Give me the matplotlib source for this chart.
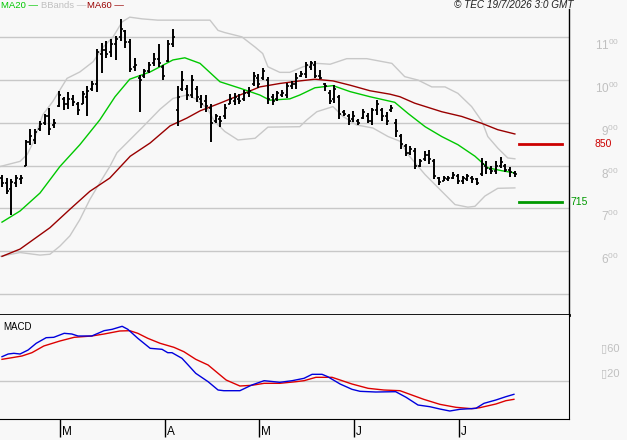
import matplotlib.pyplot as plt
import numpy as np

plt.rcParams['font.family'] = ['Liberation Sans', 'DejaVu Sans']
plt.rcParams['mathtext.default'] = 'regular'

# daily bars, oldest first
high = [777, 772, 769, 777, 778, 861, 885, 885, 905, 921, 935, 910, 975, 960, 972, 966, 949, 975, 986, 998,
        1072, 1087, 1091, 1095, 1104, 1143, 1117, 1096, 1051, 1011, 1026, 1043, 1063, 1084, 1036, 1093, 1119,
        985, 1022, 989, 1012, 987, 966, 964, 944, 921, 916, 943, 967, 970, 967, 977, 983, 1019, 1014, 1028,
        1006, 967, 975, 977, 993, 998, 1016, 1022, 1042, 1045, 1045, 1024, 993, 977, 988, 966, 931, 921, 927,
        908, 933, 923, 935, 954, 935, 926, 941, 908, 875, 851, 846, 842, 815, 834, 836, 815, 774, 776, 776,
        784, 780, 776, 780, 776, 772, 817, 811, 799, 811, 820, 805, 797, 788]
low = [749, 733, 685, 749, 757, 799, 848, 851, 881, 896, 871, 888, 936, 931, 933, 939, 918, 943, 916, 974,
       972, 1016, 1051, 1055, 1047, 1091, 1076, 1019, 1022, 925, 1005, 1016, 1032, 1030, 1001, 1042, 1078,
       892, 974, 954, 957, 949, 935, 926, 855, 900, 890, 910, 944, 941, 943, 952, 960, 985, 981, 1001,
       944, 941, 950, 960, 958, 978, 978, 1006, 1005, 1024, 1005, 1003, 975, 944, 947, 910, 915, 896, 902,
       894, 910, 900, 896, 919, 904, 895, 926, 867, 838, 822, 825, 791, 797, 811, 805, 768, 755, 763, 764,
       768, 758, 758, 764, 760, 755, 776, 781, 780, 780, 794, 784, 774, 774]
opn = [770, 760, 745, 760, 768, 800, 855, 860, 885, 900, 915, 895, 940, 955, 945, 955, 945, 945, 960, 980,
       990, 1060, 1070, 1065, 1085, 1100, 1115, 1090, 1030, 1005, 1010, 1020, 1040, 1050, 1030, 1045, 1085,
       930, 980, 980, 965, 980, 955, 950, 935, 905, 910, 915, 945, 950, 955, 955, 970, 990, 1005, 1005,
       1000, 960, 955, 965, 965, 985, 990, 1010, 1015, 1030, 1035, 1010, 990, 970, 955, 960, 925, 915, 908,
       905, 912, 915, 905, 930, 930, 915, 930, 900, 870, 845, 830, 835, 800, 815, 825, 812, 770, 765, 768,
       772, 775, 765, 768, 772, 768, 780, 800, 792, 788, 800, 800, 790, 782]
close = [760, 740, 762, 770, 772, 855, 870, 878, 898, 915, 885, 900, 965, 945, 955, 948, 930, 968, 975, 990,
         1065, 1070, 1060, 1085, 1095, 1120, 1090, 1025, 1035, 1000, 1020, 1035, 1050, 1040, 1010, 1085, 1100,
         960, 1000, 965, 1000, 960, 945, 940, 900, 915, 905, 935, 955, 960, 950, 970, 975, 1010, 990, 1020,
         955, 950, 970, 970, 985, 990, 1005, 1015, 1035, 1040, 1010, 1005, 985, 950, 980, 920, 920, 905, 915,
         900, 925, 905, 930, 945, 915, 905, 935, 880, 850, 830, 840, 800, 810, 825, 815, 775, 762, 770, 772,
         778, 765, 770, 775, 768, 760, 805, 795, 788, 800, 808, 790, 785, 780]

# indicator lines read at sparse bar positions
ma20_x = [0, 3.8, 8, 12.2, 16.4, 20.6, 23.8, 26.9, 31.2, 36, 38.5, 41.7, 45.9, 50.1, 54.3, 56.4, 60.6, 62.7,
          65.9, 69.7, 73.3, 77.5, 82.7, 85.5, 89.1, 92.6, 96, 99.6, 102.3, 105.3, 108]
ma20 = [668, 694, 736, 798, 849, 907, 961, 1002, 1019, 1047, 1052, 1039, 996, 981, 965, 953, 956, 965,
        982, 987, 973, 961, 948, 922, 891, 868, 849, 822, 795, 788, 783]

ma60_x = [0, 3.8, 10.1, 14.3, 18.5, 22.7, 27, 31.2, 35.4, 38.9, 41.7, 45.9, 50.1, 54.3, 58.5, 62.7, 65.9,
          69.7, 73.3, 77.5, 81.7, 83.8, 86.9, 92.6, 96.8, 101, 104.4, 108]
ma60 = [588, 605, 655, 698, 740, 771, 822, 853, 893, 911, 928, 946, 965, 984, 992, 998, 1002, 998, 988,
        975, 967, 961, 946, 926, 915, 899, 884, 874]

bb_up_x = [-0.4, 3.8, 5.3, 6.5, 8.6, 10.7, 13.7, 16.4, 19.2, 21.3, 23.4, 25.3, 26.9, 29.5, 32.8, 40, 43.8,
           45.5, 46.9, 50.5, 53.3, 54.9, 56, 58.5, 60.6, 63.4, 66.3, 69.1, 72.6, 76.8, 82.1, 84.8, 87.6,
           90.5, 93.3, 96, 98.9, 101.1, 102.3, 104.4, 106.5, 108]
bb_up = [798, 810, 826, 853, 919, 950, 1004, 1019, 1043, 1077, 1101, 1136, 1147, 1143, 1140, 1140, 1140,
         1116, 1111, 1101, 1077, 1062, 1031, 1018, 1018, 1031, 1039, 1037, 1050, 1050, 1039, 1008, 1000,
         984, 984, 969, 938, 903, 868, 841, 818, 816]

bb_lo_x = [-0.4, 3.8, 8, 10.1, 12.2, 14.3, 16.4, 18.5, 20.6, 22.7, 24.2, 26.9, 29.7, 33.3, 36, 38.9, 40.6,
           43.2, 44.8, 46.9, 49.7, 53.3, 56, 62.7, 64.2, 66.3, 69.7, 71.8, 74.7, 78.1, 81.3, 83.8, 85.5,
           89.1, 92.6, 95.4, 98.1, 99.6, 101.7, 104.4, 108]
bb_lo = [588, 597, 591, 593, 612, 636, 674, 721, 760, 798, 830, 860, 891, 932, 957, 965, 957, 934, 903,
         880, 860, 864, 890, 891, 907, 926, 938, 915, 895, 888, 868, 857, 826, 779, 740, 709, 703, 705, 729,
         747, 748]

macd_x = [0, 1.3, 2.5, 3.8, 5.5, 7.2, 9.3, 10.9, 13.1, 14.7, 16, 18.9, 21.5, 23.2, 25.3, 26.5, 28.6, 31.2,
          33.7, 34.9, 35.8, 37.9, 39.2, 40.8, 43.4, 45.5, 46.7, 50.1, 52.6, 55.2, 58.5, 61.1, 63.6, 65.3,
          67.4, 68.6, 71.2, 73.7, 75.4, 78.7, 82.9, 85.1, 87.6, 90.1, 92.2, 94.3, 96.4, 99.8, 101.5, 104,
          106.1, 107.8]
macd = [38.9, 43.2, 44.3, 43.2, 49.6, 60.3, 69.3, 69.9, 76.3, 75.2, 72, 72, 80.5, 82.7, 87.5, 82.7, 68.3,
        52.3, 50.7, 45.3, 45.3, 36.3, 25.6, 12.3, -1.1, -14.4, -15.5, -15.5, -6.4, 0.5, -2.1, 0.5, 4.3,
        10.7, 10.7, 6.9, -4.8, -13.3, -16.5, -17.6, -17.1, -26.1, -38.4, -41.1, -44.8, -48, -45.3, -43.7,
        -35.7, -30.4, -25.1, -21.3]

signal_x = [0, 2.1, 4.2, 6.3, 8.8, 12.2, 15.2, 18.9, 21.5, 24.8, 26.9, 28.6, 30.7, 33.3, 36.2, 38.3, 40.8,
            43.4, 45.5, 47.2, 50.1, 52.6, 55.2, 58.5, 61.9, 63.6, 66.1, 69.5, 71.2, 73.7, 77.1, 80.4, 83.8,
            86.3, 88.8, 92.2, 95.6, 98.9, 100.6, 104, 106.1, 107.8]
signal = [34.7, 37.3, 40, 45.3, 56, 64, 69.9, 72, 75.2, 80, 80.5, 76.3, 68.3, 60.3, 53.9, 46.9, 34.7, 25.6,
          12.3, 1.6, -8, -6.9, -3.7, -3.7, -1.1, 0.5, 5.9, 5.9, 1.6, -4.8, -11.7, -14.4, -15.5, -22.4,
          -29.3, -37.3, -42.1, -44.3, -42.7, -36.8, -31.5, -29.3]

months = ['M', 'A', 'M', 'J', 'J']
month_pos = [12.2, 34.3, 54.1, 74.1, 96.2]

levels = [850, 715]
level_colors = ['#cc0000', '#009900']

price_grid = [500, 600, 700, 800, 900, 1000, 1100]
price_labels = {600: '6$^{00}$', 700: '7$^{00}$', 800: '8$^{00}$', 900: '9$^{00}$',
                1000: '10$^{00}$', 1100: '11$^{00}$'}
macd_labels = {60: '\u25af60', 20: '\u25af20'}

bg = '#f8f8f8'
grid = '#c8c8c8'

fig = plt.figure(figsize=(6.27, 4.40), dpi=100, facecolor=bg)
ax1 = fig.add_axes([0, 0.2841, 0.9075, 0.6954], facecolor=bg)
ax2 = fig.add_axes([0, 0.0477, 0.9075, 0.2364], facecolor=bg)

xl = (-0.42, 119.4)

# price panel
for g in price_grid:
    ax1.axhline(g, color=grid, lw=1, zorder=0)
ax1.plot(bb_up_x, bb_up, color='#c8c8c8', lw=1)
ax1.plot(bb_lo_x, bb_lo, color='#c8c8c8', lw=1)
ax1.plot(ma60_x, ma60, color='#990000', lw=1)
ax1.plot(ma20_x, ma20, color='#00c800', lw=1)

x = np.arange(len(high))
ax1.vlines(x, low, high, color='black', lw=1.4)
ax1.hlines(opn, x - 0.42, x, color='black', lw=1.2)
ax1.hlines(close, x, x + 0.42, color='black', lw=1.2)

for lv, c in zip(levels, level_colors):
    ax1.axhline(lv, xmin=0.912, xmax=0.988, color=c, lw=2)

ax1.set_xlim(xl)
ax1.set_ylim(451, 1166)
ax1.set_xticks([])
ax1.set_yticks([])
for s in ['top', 'left']:
    ax1.spines[s].set_visible(False)
ax1.spines['right'].set_linewidth(1)
ax1.spines['bottom'].set_linewidth(2)

ytr = ax1.get_yaxis_transform()
for v, lab in price_labels.items():
    ax1.text(1.088, v - 2, lab, transform=ytr, ha='right', va='top', color='#c0c0c0', fontsize=8.5)
ax1.text(1.044, levels[0], str(levels[0]), transform=ytr, ha='left', va='center',
         color=level_colors[0], fontsize=7.5)
ax1.text(1.002, levels[1], str(levels[1]), transform=ytr, ha='left', va='center',
         color=level_colors[1], fontsize=7.5)

# MACD panel
ax2.axhline(0, color=grid, lw=1, zorder=0)
ax2.plot(signal_x, signal, color='#dd0000', lw=1)
ax2.plot(macd_x, macd, color='#0000dd', lw=1)
ax2.set_xlim(xl)
ax2.set_ylim(-60.8, 105.6)
ax2.set_yticks([])
ax2.spines['top'].set_visible(False)
ax2.spines['left'].set_visible(False)
ax2.set_xticks(month_pos)
ax2.set_xticklabels([])
ax2.tick_params(axis='x', length=13, width=1, color='black', direction='out')
ytr2 = ax2.get_yaxis_transform()
for v, lab in macd_labels.items():
    ax2.text(1.088, v, lab, transform=ytr2, ha='right', va='top', color='#c0c0c0', fontsize=8)
xtr2 = ax2.get_xaxis_transform()
for p, m in zip(month_pos, months):
    ax2.text(p + 0.4, -0.125, m, transform=xtr2, ha='left', va='center', fontsize=8.5)
ax2.text(0.005, 0.88, 'MACD', transform=ax2.transAxes, ha='left', va='center', fontsize=7)

# header legend
fig.text(1 / 627, 1 - 5 / 440, 'MA20 \u2014', color='#00c800', fontsize=6.8, va='center')
fig.text(41 / 627, 1 - 5 / 440, 'BBands \u2014', color='#c0c0c0', fontsize=6.8, va='center')
fig.text(87 / 627, 1 - 5 / 440, 'MA60 \u2014', color='#990000', fontsize=6.8, va='center')
fig.text(573 / 627, 1 - 5 / 440, '\u00a9 TEC 19/7/2026 3:0 GMT', ha='right', va='center',
         fontsize=7.2, style='italic', color='#202020')

fig.savefig('out.png', dpi=100, facecolor=bg)
